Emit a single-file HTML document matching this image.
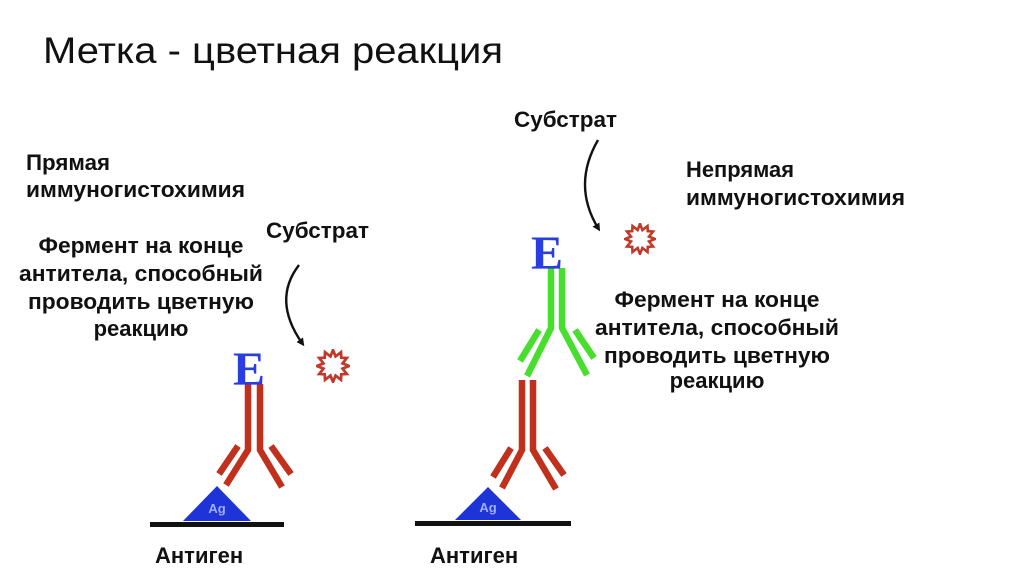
<!DOCTYPE html>
<html><head><meta charset="utf-8"><style>
html,body{margin:0;padding:0;background:#fff;}
svg{display:block;}
.b{font-family:"Liberation Sans",Arial,sans-serif;font-weight:bold;font-size:22px;fill:#111;}
</style></head><body>
<svg width="1024" height="574" viewBox="0 0 1024 574" xmlns="http://www.w3.org/2000/svg">
<defs>
<marker id="ah" markerWidth="8" markerHeight="8" refX="4" refY="4" orient="auto" markerUnits="userSpaceOnUse"><path d="M0,0 L8,4 L0,8 z" fill="#111"/></marker>
<symbol id="star" viewBox="-16 -16 32 32">
<polygon points="0,-15 2.4,-9 7.5,-13 7.8,-7.8 13,-7.5 9,-2.4 15,0 9,2.4 13,7.5 7.8,7.8 7.5,13 2.4,9 0,15 -2.4,9 -7.5,13 -7.8,7.8 -13,7.5 -9,2.4 -15,0 -9,-2.4 -13,-7.5 -7.8,-7.8 -7.5,-13 -2.4,-9" fill="#fff" stroke="#c0392b" stroke-width="2.6"/>
</symbol>
</defs>
<text x="43" y="63" style="font-family:'Liberation Sans',Arial,sans-serif;font-size:37px" fill="#111" textLength="460" lengthAdjust="spacingAndGlyphs">Метка - цветная реакция</text>

<text class="b" x="26" y="170" textLength="84" lengthAdjust="spacingAndGlyphs">Прямая</text>
<text class="b" x="26" y="197" textLength="219" lengthAdjust="spacingAndGlyphs">иммуногистохимия</text>
<text class="b" x="141" y="253" text-anchor="middle" textLength="205" lengthAdjust="spacingAndGlyphs">Фермент на конце</text>
<text class="b" x="141" y="281" text-anchor="middle" textLength="244" lengthAdjust="spacingAndGlyphs">антитела, способный</text>
<text class="b" x="141" y="309" text-anchor="middle" textLength="226" lengthAdjust="spacingAndGlyphs">проводить цветную</text>
<text class="b" x="141" y="336" text-anchor="middle">реакцию</text>
<text class="b" x="266" y="238" textLength="103" lengthAdjust="spacingAndGlyphs">Субстрат</text>

<text class="b" x="514" y="127" textLength="103" lengthAdjust="spacingAndGlyphs">Субстрат</text>
<text class="b" x="686" y="177" textLength="108" lengthAdjust="spacingAndGlyphs">Непрямая</text>
<text class="b" x="686" y="205" textLength="219" lengthAdjust="spacingAndGlyphs">иммуногистохимия</text>
<text class="b" x="717" y="307" text-anchor="middle" textLength="205" lengthAdjust="spacingAndGlyphs">Фермент на конце</text>
<text class="b" x="717" y="335" text-anchor="middle" textLength="244" lengthAdjust="spacingAndGlyphs">антитела, способный</text>
<text class="b" x="717" y="363" text-anchor="middle" textLength="226" lengthAdjust="spacingAndGlyphs">проводить цветную</text>
<text class="b" x="717" y="388" text-anchor="middle">реакцию</text>

<text class="b" x="155" y="563">Антиген</text>
<text class="b" x="430" y="563">Антиген</text>

<!-- Left diagram -->
<path d="M299,265 Q272,300 302,343" fill="none" stroke="#111" stroke-width="2.4" marker-end="url(#ah)"/>
<use href="#star" x="316" y="349" width="34" height="34"/>
<g stroke="#c0301c" stroke-width="6.5" fill="none">
<polyline points="248,384 248,450 226,485"/>
<polyline points="260,384 260,450 282,487"/>
<line x1="238" y1="446" x2="219" y2="474"/>
<line x1="271" y1="446" x2="291" y2="474"/>
</g>
<text x="233" y="385" style="font-family:'Liberation Serif',serif;font-weight:bold;font-size:48px" fill="#2a3de0">E</text>
<polygon points="217,486 183,521 251,521" fill="#1e33d8"/>
<text x="217" y="513" text-anchor="middle" style="font-family:'Liberation Sans',sans-serif;font-size:13px;font-weight:bold" fill="#9fb0ff">Ag</text>
<rect x="150" y="522" width="134" height="5" fill="#111"/>

<!-- Right diagram -->
<path d="M598,140 Q572,185 598,228" fill="none" stroke="#111" stroke-width="2.4" marker-end="url(#ah)"/>
<use href="#star" x="624" y="223" width="32" height="32"/>
<g stroke="#48de2e" stroke-width="6.5" fill="none">
<polyline points="551,268 551,328 527,376"/>
<polyline points="562,268 562,328 587,375"/>
<line x1="539" y1="330" x2="520" y2="361"/>
<line x1="575" y1="330" x2="594" y2="358"/>
</g>
<text x="531" y="269" style="font-family:'Liberation Serif',serif;font-weight:bold;font-size:48px" fill="#2a3de0">E</text>
<g stroke="#c0301c" stroke-width="6.5" fill="none">
<polyline points="522,380 522,450 502,488"/>
<polyline points="533,380 533,450 556,489"/>
<line x1="511" y1="448" x2="493" y2="477"/>
<line x1="545" y1="448" x2="564" y2="475"/>
</g>
<polygon points="488,487 455,520 521,520" fill="#1e33d8"/>
<text x="488" y="512" text-anchor="middle" style="font-family:'Liberation Sans',sans-serif;font-size:13px;font-weight:bold" fill="#9fb0ff">Ag</text>
<rect x="415" y="521" width="156" height="5" fill="#111"/>
</svg>
</body></html>
